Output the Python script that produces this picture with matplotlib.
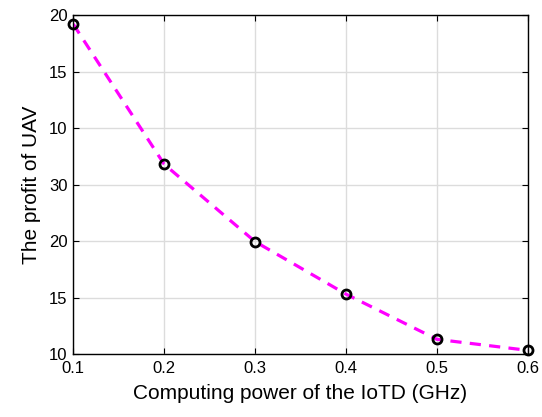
import matplotlib
matplotlib.use("Agg")
import matplotlib.pyplot as plt

plt.rcParams['font.family'] = ['Liberation Sans', 'DejaVu Sans']

# computing power (GHz) and UAV profit, profit given on the axis' tick scale
power = [0.1, 0.2, 0.3, 0.4, 0.5, 0.6]
profit = [5.84, 3.36, 1.99, 1.06, 0.26, 0.065]

y_ticks = [0, 1, 2, 3, 4, 5, 6]
y_tick_labels = ['10', '15', '20', '30', '10', '15', '20']
x_ticks = [0.1, 0.2, 0.3, 0.4, 0.5, 0.6]

fig = plt.figure(figsize=(5.42, 4.17), dpi=100)
ax = fig.add_axes([0.135, 0.151, 0.839, 0.813])

ax.plot(power, profit, color='#ff00ff', linestyle=(0, (3.5, 2.6)), linewidth=2.3, zorder=2)
ax.plot(power, profit, linestyle='none', marker='o', markersize=6.5,
        markerfacecolor='none', markeredgecolor='black', markeredgewidth=2.0,
        zorder=3, clip_on=False)

ax.set_xlim(0.1, 0.6)
ax.set_ylim(0, 6)
ax.set_xticks(x_ticks)
ax.set_xticklabels(['0.1', '0.2', '0.3', '0.4', '0.5', '0.6'])
ax.set_yticks(y_ticks)
ax.set_yticklabels(y_tick_labels)

ax.grid(True, color='#dcdcdc', linewidth=1.0)
ax.set_axisbelow(True)
ax.tick_params(direction='in', top=True, right=True, length=4, width=0.8,
               labelsize=12)
ax.tick_params(axis='x', pad=5)
ax.tick_params(axis='y', pad=4)
for s in ax.spines.values():
    s.set_linewidth(1.0)

ax.set_xlabel('Computing power of the IoTD (GHz)', fontsize=15, labelpad=6)
ax.set_ylabel('The profit of UAV', fontsize=15, labelpad=6)

fig.savefig('out.png', dpi=100)
